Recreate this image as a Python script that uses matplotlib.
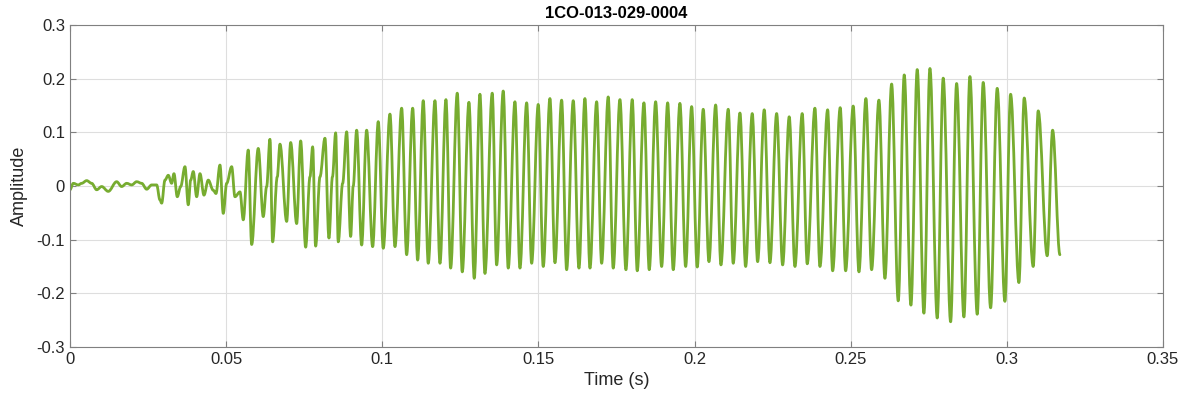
import numpy as np
import matplotlib
matplotlib.use("Agg")
import matplotlib.pyplot as plt
from matplotlib.path import Path
from matplotlib.patches import PathPatch
from matplotlib.ticker import FuncFormatter

# Onset: near-silent baseline and irregular start of voicing (t in s, amplitude)
onset_t = [0.0, 0.00106, 0.00266, 0.00375, 0.00535, 0.00695, 0.00855, 0.01015,
           0.01226, 0.01495, 0.01655, 0.01816, 0.01976, 0.02136, 0.02296, 0.02456,
           0.02616, 0.02776, 0.02882, 0.02936,
           0.03042, 0.03148, 0.03256, 0.03330, 0.03436, 0.03545, 0.03682, 0.03788,
           0.03865, 0.03948, 0.04057, 0.04163, 0.04291, 0.04428, 0.04589, 0.04675,
           0.04803, 0.04909, 0.05018, 0.05178, 0.05283, 0.05444, 0.05549, 0.05709,
           0.05818, 0.06029, 0.06189, 0.06298, 0.06404, 0.06490, 0.06638, 0.06724,
           0.06939, 0.07067, 0.07259, 0.07387, 0.07547, 0.07685, 0.07771, 0.07867,
           0.08005, 0.08165, 0.08293, 0.08405, 0.08508, 0.08591, 0.08732, 0.08860,
           0.08988, 0.09071, 0.09180, 0.09340]
onset_a = [-0.007, 0.005, 0.002, 0.005, 0.010, 0.005, -0.007, -0.001,
           -0.010, 0.008, -0.001, 0.005, 0.002, 0.008, 0.005, -0.006,
           0.002, 0.002, -0.026, -0.032,
           0.011, 0.020, 0.005, 0.023, -0.020, -0.001, 0.036, -0.035,
           0.011, 0.027, -0.020, 0.023, -0.017, 0.011, -0.008, -0.014,
           0.039, -0.051, 0.005, 0.036, -0.020, -0.011, -0.063, 0.067,
           -0.109, 0.070, -0.057, -0.001, 0.087, -0.104, 0.017, 0.078,
           -0.066, 0.081, -0.070, 0.084, -0.114, 0.017, 0.073, -0.112,
           0.017, 0.089, -0.097, 0.017, 0.099, -0.104, 0.005, 0.101,
           -0.094, 0.000, 0.104, -0.110]

# Voiced part: cycle maxima and minima
peak_t = [0.09500, 0.09872, 0.10247, 0.10621, 0.10974, 0.11313, 0.11688, 0.12040,
          0.12402, 0.12776, 0.13128, 0.13522, 0.13874, 0.14249, 0.14624, 0.14995,
          0.15370, 0.15744, 0.16116, 0.16490, 0.16865, 0.17236, 0.17611, 0.18005,
          0.18380, 0.18754, 0.19139, 0.19532, 0.19907, 0.20279, 0.20676, 0.21079,
          0.21454, 0.21848, 0.22232, 0.22629, 0.23032, 0.23448, 0.23855, 0.24262,
          0.24665, 0.25081, 0.25488, 0.25904, 0.26311, 0.26715, 0.27131, 0.27538,
          0.27963, 0.28392, 0.28818, 0.29244, 0.29692, 0.30121, 0.30557, 0.31005,
          0.31466]
peak_a = [0.104, 0.120, 0.134, 0.145, 0.145, 0.159, 0.159, 0.161,
          0.173, 0.156, 0.171, 0.173, 0.177, 0.157, 0.155, 0.152,
          0.163, 0.160, 0.159, 0.163, 0.157, 0.166, 0.161, 0.161,
          0.155, 0.157, 0.155, 0.154, 0.148, 0.143, 0.151, 0.143,
          0.136, 0.135, 0.142, 0.135, 0.129, 0.135, 0.145, 0.142,
          0.146, 0.149, 0.163, 0.160, 0.190, 0.207, 0.217, 0.219,
          0.201, 0.191, 0.204, 0.193, 0.182, 0.171, 0.164, 0.140,
          0.104]
trough_t = [0.09692, 0.10032, 0.10407, 0.10781, 0.11134, 0.11473, 0.11848, 0.12190,
            0.12562, 0.12946, 0.13288, 0.13663, 0.14034, 0.14409, 0.14784, 0.15155,
            0.15530, 0.15904, 0.16298, 0.16651, 0.17025, 0.17396, 0.17803, 0.18165,
            0.18549, 0.18946, 0.19318, 0.19715, 0.20086, 0.20461, 0.20845, 0.21239,
            0.21636, 0.22020, 0.22414, 0.22821, 0.23215, 0.23609, 0.24015, 0.24422,
            0.24838, 0.25264, 0.25670, 0.26097, 0.26522, 0.26929, 0.27345, 0.27771,
            0.28200, 0.28626, 0.29052, 0.29481, 0.29939, 0.30387, 0.30845, 0.31293,
            0.31700]
trough_a = [-0.113, -0.116, -0.113, -0.128, -0.138, -0.144, -0.144, -0.153,
            -0.160, -0.172, -0.163, -0.147, -0.153, -0.153, -0.144, -0.150,
            -0.143, -0.156, -0.153, -0.153, -0.144, -0.153, -0.156, -0.158,
            -0.156, -0.150, -0.156, -0.150, -0.151, -0.141, -0.147, -0.144,
            -0.150, -0.141, -0.143, -0.147, -0.150, -0.145, -0.150, -0.158,
            -0.158, -0.160, -0.156, -0.172, -0.214, -0.222, -0.237, -0.246,
            -0.253, -0.244, -0.239, -0.227, -0.215, -0.180, -0.150, -0.130,
            -0.128]

title = "1CO-013-029-0004"

# merge everything into one time series
t = np.concatenate([onset_t, peak_t, trough_t])
a = np.concatenate([onset_a, peak_a, trough_a])
order = np.argsort(t)
t, a = t[order], a[order]

# draw the trace as smooth curves (flat tangent at each extreme) instead of a zigzag
verts = [(t[0], a[0])]
codes = [Path.MOVETO]
for i in range(1, len(t)):
    dt = t[i] - t[i - 1]
    verts += [(t[i - 1] + 0.36 * dt, a[i - 1]), (t[i] - 0.36 * dt, a[i]), (t[i], a[i])]
    codes += [Path.CURVE4] * 3

plt.rcParams['font.family'] = ['Liberation Sans', 'DejaVu Sans']

fig = plt.figure(figsize=(11.82, 4.04), dpi=100)
ax = fig.add_axes([0.0592, 0.1411, 0.9247, 0.797])

ax.add_patch(PathPatch(Path(verts, codes), fill=False, edgecolor='#77AC30',
                       linewidth=2.0, joinstyle='round', capstyle='round'))

ax.set_xlim(0, 0.35)
ax.set_ylim(-0.3, 0.3)
ax.set_xticks(np.arange(0, 0.351, 0.05))
ax.set_yticks(np.arange(-0.3, 0.301, 0.1))

fmt = FuncFormatter(lambda v, p: ("%g" % round(v, 3)).replace('\u2212', '-'))
ax.xaxis.set_major_formatter(fmt)
ax.yaxis.set_major_formatter(fmt)

ax.grid(True, color='#dedede', linewidth=0.8)
ax.set_axisbelow(True)
for s in ax.spines.values():
    s.set_color('#808080')
    s.set_linewidth(0.8)
ax.tick_params(direction='in', length=4, width=0.8, color='#808080',
               labelcolor='#262626', labelsize=12, top=True, right=True,
               labeltop=False, labelright=False)

ax.set_xlabel("Time (s)", fontsize=13, color='#262626', labelpad=4)
ax.set_ylabel("Amplitude", fontsize=13, color='#262626', labelpad=6)
ax.set_title(title, fontsize=12, fontweight='bold', color='black', pad=5)

fig.savefig("out.png", dpi=100)
